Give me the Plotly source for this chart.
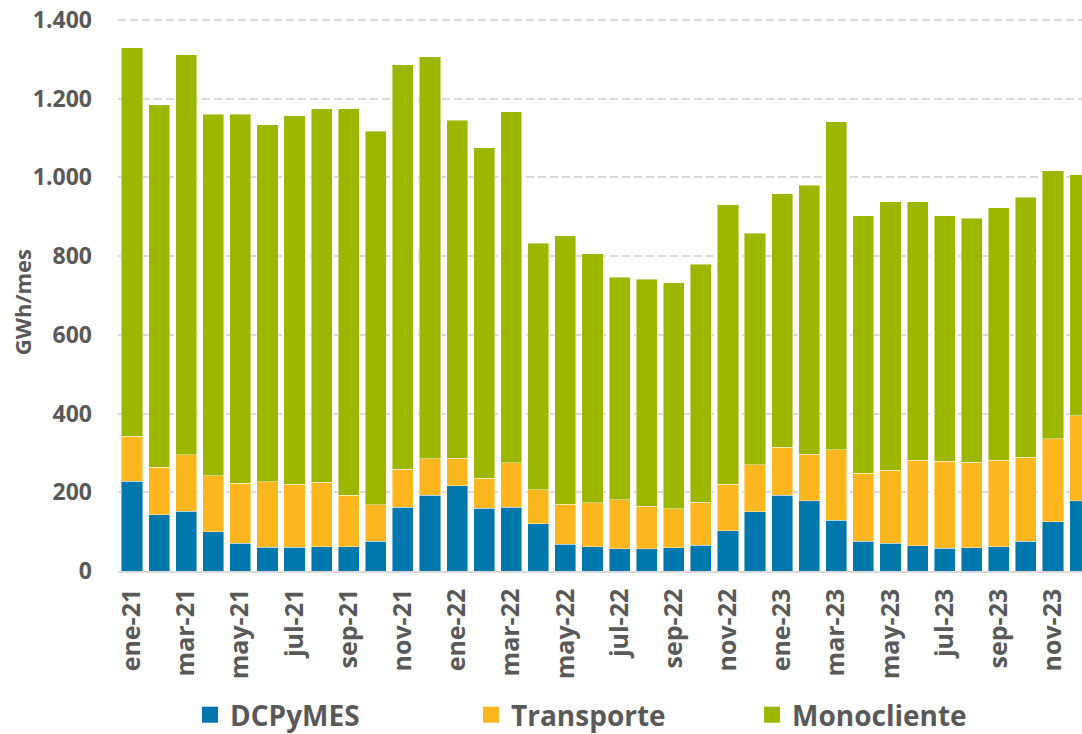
import plotly.graph_objects as go

months = ["ene", "feb", "mar", "abr", "may", "jun", "jul", "ago", "sep", "oct", "nov", "dic"]
years = ["21", "22", "23"]
categories = [f"{m}-{y}" for y in years for m in months]

dcpymes = [228, 143, 152, 100, 70, 60, 60, 62, 62, 76, 162, 192,
           216, 159, 162, 120, 68, 61, 56, 56, 59, 66, 102, 150,
           193, 179, 129, 75, 70, 64, 58, 59, 61, 76, 125, 179]
transporte = [114, 121, 144, 142, 153, 167, 161, 163, 131, 92, 97, 93,
              71, 77, 113, 86, 102, 112, 125, 108, 99, 109, 119, 120,
              121, 118, 179, 174, 186, 217, 221, 217, 220, 213, 211, 215]
monocliente = [988, 920, 1016, 919, 938, 907, 936, 949, 981, 949, 1027, 1021,
               858, 839, 892, 627, 682, 633, 565, 577, 575, 605, 710, 588,
               644, 683, 834, 653, 682, 657, 623, 620, 642, 661, 681, 613]

series_names = ["DCPyMES", "Transporte", "Monocliente"]
series_values = [dcpymes, transporte, monocliente]
colors = ["#0078AE", "#FDB71E", "#9DB700"]

y_ticks = [0, 200, 400, 600, 800, 1000, 1200, 1400]
x_ticks = categories[::2]

FONT = "Open Sans"
GRAY = "#595959"

fig = go.Figure()
for name, vals, col in zip(series_names, series_values, colors):
    fig.add_trace(go.Bar(
        x=categories, y=vals, name=name, showlegend=False,
        marker=dict(color=col, line=dict(color="rgba(255,255,255,0.55)", width=0.8)),
    ))
# legend entries (square swatches)
for name, col in zip(series_names, colors):
    fig.add_trace(go.Scatter(
        x=[None], y=[None], name=name, mode="markers",
        marker=dict(symbol="square", size=16, color=col),
    ))

fig.update_layout(
    width=1082, height=734,
    margin=dict(l=118, r=0, t=18, b=163, autoexpand=False),
    barmode="stack", bargap=0.22,
    plot_bgcolor="white", paper_bgcolor="white",
    separators=",.",
    font=dict(family=FONT, color=GRAY, weight=700),
    showlegend=True,
    legend=dict(
        orientation="h", yanchor="middle", y=-0.2604, xanchor="left", x=0.0747,
        traceorder="normal",
        entrywidth=236, entrywidthmode="pixels", itemsizing="trace",
        font=dict(family=FONT, size=28, color=GRAY, weight=700),
        bgcolor="rgba(0,0,0,0)", borderwidth=0,
    ),
    xaxis=dict(
        type="category", range=[-0.517, 35.07], automargin=False,
        tickmode="array", tickvals=x_ticks, ticktext=x_ticks,
        tickangle=-90, tickfont=dict(family=FONT, size=25, color=GRAY, weight=700),
        showline=True, linecolor="#D9D9D9", linewidth=1.5,
        showgrid=False, ticks="", ticklabelstandoff=6,
    ),
    yaxis=dict(
        range=[0, 1405], automargin=False, ticklabeloverflow="allow",
        tickmode="array", tickvals=y_ticks, tickformat=",d",
        tickfont=dict(family=FONT, size=23, color=GRAY, weight=700),
        showgrid=True, gridcolor="#D9D9D9", gridwidth=1.5, griddash="8px,4px",
        zeroline=False, ticks="", ticklabelstandoff=25,
    ),
    annotations=[dict(
        text="GWh/mes", textangle=-90, xref="paper", yref="paper",
        x=-0.0996, y=0.486, xanchor="center", yanchor="middle", showarrow=False,
        font=dict(family=FONT, size=22, color=GRAY, weight=700),
    )],
)

fig.write_html(
    "out.html",
    config={"displayModeBar": False},
    post_script="document.body.style.margin='0px';",
)
